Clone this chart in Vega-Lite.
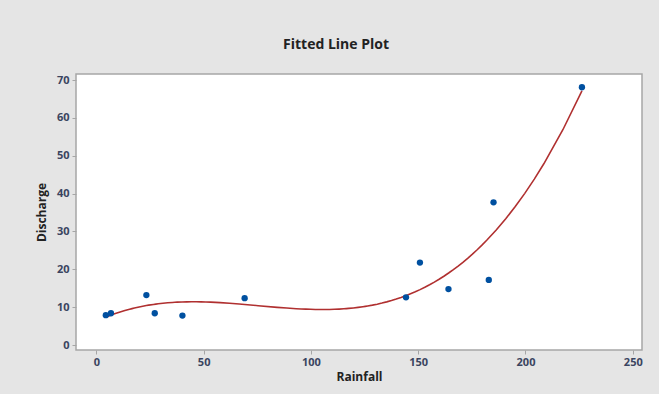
{
  "$schema": "https://vega.github.io/schema/vega-lite/v6.json",
  "autosize": "none",
  "width": 566,
  "height": 276,
  "padding": {"left": 76, "top": 74, "right": 17, "bottom": 44},
  "background": "#E5E5E5",
  "title": {
    "text": "Fitted Line Plot",
    "font": "Open Sans",
    "fontSize": 14,
    "fontWeight": "bold",
    "color": "#222222",
    "offset": 22,
    "dx": -23
  },
  "config": {
    "view": {"fill": "white", "stroke": "#A6A6A6", "strokeWidth": 1.5},
    "axis": {
      "grid": false,
      "domain": false,
      "tickColor": "#A6A6A6",
      "tickSize": 4,
      "labelFont": "Open Sans",
      "labelFontSize": 11,
      "labelFontWeight": "bold",
      "labelColor": "#3A4460",
      "titleFont": "Open Sans",
      "titleFontSize": 12,
      "titleFontWeight": "bold",
      "titleColor": "#222222"
    }
  },
  "data": {
    "values": [
      {"Rainfall": 4.4, "Discharge": 7.9},
      {"Rainfall": 6.8, "Discharge": 8.4},
      {"Rainfall": 23.3, "Discharge": 13.2},
      {"Rainfall": 27.2, "Discharge": 8.4},
      {"Rainfall": 40.1, "Discharge": 7.8},
      {"Rainfall": 69.1, "Discharge": 12.4},
      {"Rainfall": 144.3, "Discharge": 12.6},
      {"Rainfall": 150.8, "Discharge": 21.8},
      {"Rainfall": 164.1, "Discharge": 14.8},
      {"Rainfall": 182.9, "Discharge": 17.2},
      {"Rainfall": 185.1, "Discharge": 37.7},
      {"Rainfall": 226.3, "Discharge": 68.1}
    ]
  },
  "encoding": {
    "x": {
      "field": "Rainfall",
      "type": "quantitative",
      "scale": {"domain": [-9.5, 254.3], "nice": false, "zero": false},
      "axis": {"values": [0, 50, 100, 150, 200, 250], "title": "Rainfall", "labelPadding": 2, "titlePadding": 4}
    },
    "y": {
      "field": "Discharge",
      "type": "quantitative",
      "scale": {"domain": [-1.3, 71.6], "nice": false, "zero": false},
      "axis": {"values": [0, 10, 20, 30, 40, 50, 60, 70], "title": "Discharge", "labelPadding": 3, "titlePadding": 8}
    }
  },
  "layer": [
    {
      "transform": [
        {"regression": "Discharge", "on": "Rainfall", "method": "poly", "order": 3, "extent": [4.4, 226.3]}
      ],
      "mark": {"type": "line", "color": "#B03030", "strokeWidth": 1.6}
    },
    {
      "mark": {"type": "point", "filled": true, "color": "#0050A0", "size": 40, "opacity": 1, "shape": "circle"}
    }
  ]
}
